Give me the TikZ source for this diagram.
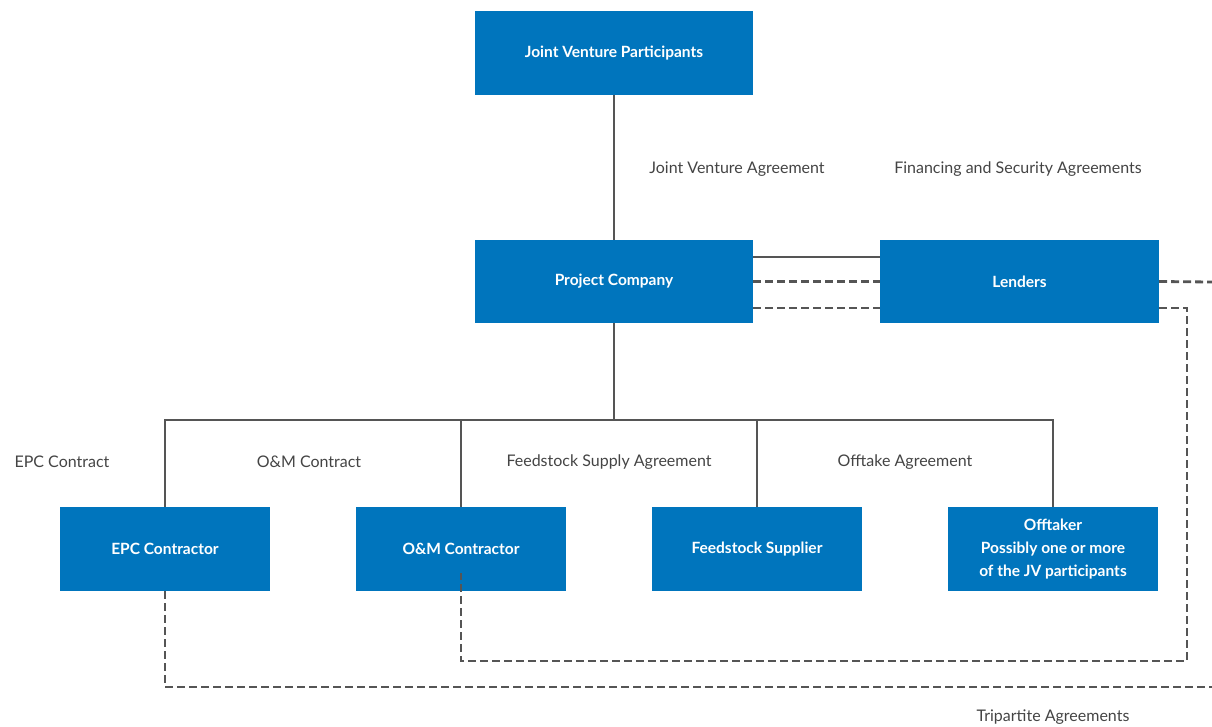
\documentclass[tikz,border=0pt]{standalone}
\usepackage{fontspec}
\setmainfont{Lato}
\definecolor{boxblue}{HTML}{0075BD}
\definecolor{linegray}{HTML}{555555}
\definecolor{textgray}{HTML}{444444}
\begin{document}
\begin{tikzpicture}[x=1pt,y=-1pt,
  box/.style={fill=boxblue,draw=none,text=white,font=\fontsize{15.5}{23}\selectfont\bfseries,align=center,inner sep=0pt},
  bigbox/.style={box,minimum width=278pt,minimum height=84pt},
  smallbox/.style={box,minimum width=210pt,minimum height=84pt},
  lbl/.style={text=textgray,font=\fontsize{16}{18}\selectfont,inner sep=0pt},
  conn/.style={draw=linegray,line width=2.8pt},
  dconn/.style={draw=linegray,line width=2.8pt,dash pattern=on 8pt off 4pt}]
\useasboundingbox (0,0) rectangle (1212,726);
\node[bigbox] (jvp) at (614,53) {Joint Venture Participants};
\node[bigbox,minimum height=83pt] (pc) at (614,281.5) {Project Company};
\node[bigbox,minimum width=279pt,minimum height=83pt] (len) at (1019.5,281.5) {Lenders};
\node[smallbox] (epc) at (165,549) {EPC Contractor};
\node[smallbox] (om) at (461,549) {O\&M Contractor};
\node[smallbox] (fs) at (757,549) {Feedstock Supplier};
\node[smallbox] (off) at (1053,549) {Offtaker\\Possibly one or more\\of the JV participants};
\coordinate (bus) at (614,420);
\coordinate (rA) at (1212,282);
\coordinate (rB) at (1187,308);
\coordinate (rC) at (1212,687);
% solid connectors
\draw[conn] (jvp) -- (pc);
\draw[conn] (pc.south) -- (bus);
\draw[conn] (epc.north) -- (epc.north |- bus) -- (off.north |- bus) -- (off.north);
\draw[conn] (om.north) -- (om.north |- bus);
\draw[conn] (fs.north) -- (fs.north |- bus);
\draw[conn] ([yshift=24.5pt]pc.east) -- ([yshift=24.5pt]len.west);
% dashed connectors
\draw[dconn] (pc.east) -- (len.west);
\draw[dconn] ([yshift=-26.5pt]pc.east) -- ([yshift=-26.5pt]len.west);
\draw[dconn] (len.east) -- (rA);
\draw[dconn] ([yshift=-26.5pt]len.east) -- (rB) -- (rB |- 0,661) -- (om.south |- 0,661) -- ([yshift=18pt]om.south);
\draw[dconn] (epc.south) -- (epc.south |- rC) -- (rC);
% labels
\node[lbl] (l1) at (737,169) {Joint Venture Agreement};
\node[lbl] (l2) at (1018,169) {Financing and Security Agreements};
\node[lbl] (l3) at (62,462) {EPC Contract};
\node[lbl] (l4) at (309,462) {O\&M Contract};
\node[lbl] (l5) at (609,462) {Feedstock Supply Agreement};
\node[lbl] (l6) at (905,462) {Offtake Agreement};
\node[lbl] (l7) at (1053,717) {Tripartite Agreements};
\end{tikzpicture}
\end{document}
